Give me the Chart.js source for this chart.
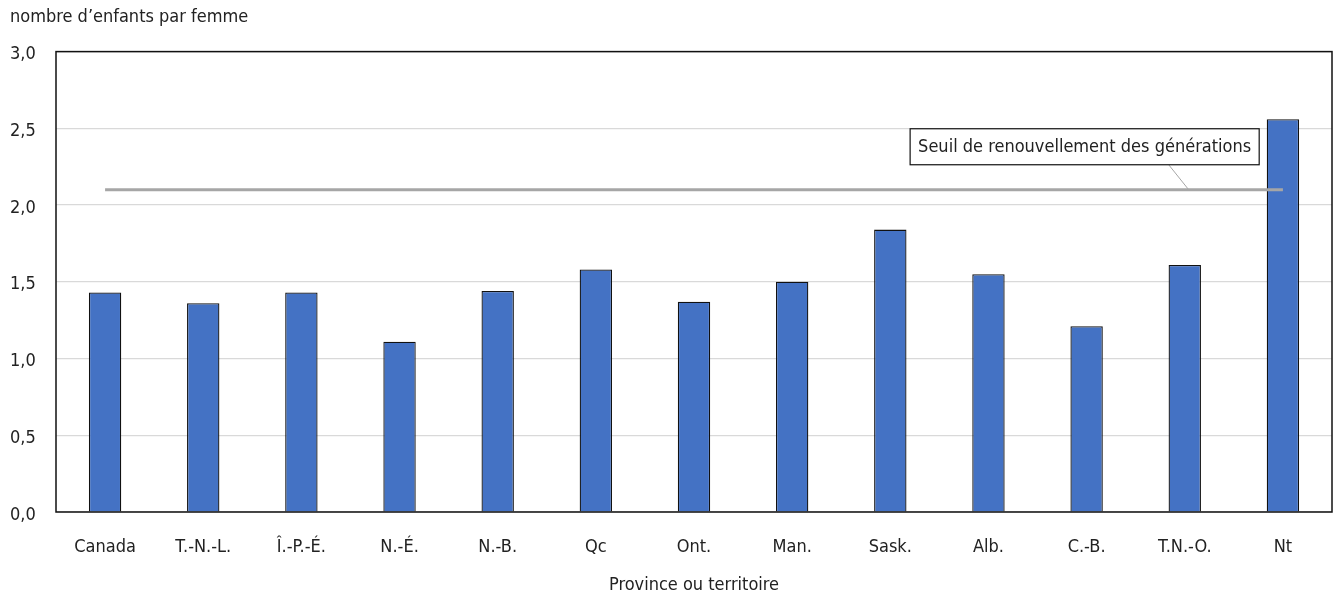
<!DOCTYPE html>
<html>
<head>
<meta charset="utf-8">
<script src="https://cdn.jsdelivr.net/npm/chart.js@4"></script>
<style>
  html, body { margin: 0; padding: 0; background: #fff; }
  #wrap { width: 1338px; height: 596px; }
</style>
</head>
<body>
<div id="wrap"><canvas id="chart" width="1338" height="596"></canvas></div>
<script>
// Data
const provinces = ['Canada', 'T.-N.-L.', 'Î.-P.-É.', 'N.-É.', 'N.-B.', 'Qc', 'Ont.', 'Man.', 'Sask.', 'Alb.', 'C.-B.', 'T.N.-O.', 'Nt'];
const fecondite = [1.43, 1.36, 1.43, 1.11, 1.44, 1.58, 1.37, 1.50, 1.84, 1.55, 1.21, 1.61, 2.56];
const seuil = [2.1, 2.1, 2.1, 2.1, 2.1, 2.1, 2.1, 2.1, 2.1, 2.1, 2.1, 2.1, 2.1];
const yTicks = [0, 0.5, 1.0, 1.5, 2.0, 2.5, 3.0];
const seuilLabel = 'Seuil de renouvellement des générations';

const FONT = "'Liberation Sans Narrow', 'DejaVu Sans Condensed', 'Roboto', sans-serif";
const FS = 18;
Chart.defaults.font.family = FONT;
Chart.defaults.color = '#222';

// frame around the plot + callout box for the threshold line
const framePlugin = {
    id: 'frame',
    afterDatasetsDraw(chart) {
        const { ctx, chartArea: a, scales } = chart;
        ctx.save();
        ctx.strokeStyle = '#111';
        ctx.lineWidth = 1.5;
        ctx.strokeRect(a.left, a.top, a.right - a.left, a.bottom - a.top);

        // leader line from box to the threshold line
        const tipX = scales.x.getPixelForValue(11.04);
        const tipY = scales.y.getPixelForValue(seuil[0]);
        const boxCx = scales.x.getPixelForValue(9.98);
        const boxCy = scales.y.getPixelForValue(2.38);
        ctx.font = FS + 'px ' + FONT;
        const w = ctx.measureText(seuilLabel).width + 16;
        const h = 36;
        ctx.strokeStyle = '#a6a6a6';
        ctx.lineWidth = 1;
        ctx.beginPath();
        ctx.moveTo(tipX - 20, boxCy + h / 2);
        ctx.lineTo(tipX, tipY);
        ctx.stroke();

        ctx.fillStyle = '#fff';
        ctx.fillRect(boxCx - w / 2, boxCy - h / 2, w, h);
        ctx.strokeStyle = '#111';
        ctx.lineWidth = 1.2;
        ctx.strokeRect(boxCx - w / 2, boxCy - h / 2, w, h);
        ctx.fillStyle = '#222';
        ctx.textAlign = 'center';
        ctx.textBaseline = 'middle';
        ctx.fillText(seuilLabel, boxCx, boxCy + 1);
        ctx.restore();
    }
};

new Chart(document.getElementById('chart').getContext('2d'), {
    data: {
        labels: provinces,
        datasets: [
            {
                type: 'line',
                data: seuil,
                borderColor: '#a6a6a6',
                borderWidth: 3,
                pointRadius: 0,
                order: 0
            },
            {
                type: 'bar',
                data: fecondite,
                backgroundColor: '#4472c4',
                borderColor: '#111',
                borderWidth: 1.3,
                barPercentage: 0.33,
                categoryPercentage: 1,
                order: 1
            }
        ]
    },
    options: {
        responsive: false,
        animation: false,
        layout: { padding: { left: 10, right: 6, top: 6, bottom: 0 } },
        plugins: {
            legend: { display: false },
            tooltip: { enabled: false },
            title: {
                display: true,
                text: 'nombre d\u2019enfants par femme',
                align: 'start',
                font: { size: FS, weight: 'normal' },
                color: '#222',
                padding: { top: 1, bottom: 23 }
            }
        },
        scales: {
            x: {
                grid: { display: false, drawTicks: false },
                border: { display: false },
                ticks: { font: { size: FS }, color: '#222', padding: 25, maxRotation: 0 },
                title: {
                    display: true,
                    text: 'Province ou territoire',
                    font: { size: FS },
                    color: '#222',
                    padding: { top: 0, bottom: 0 }
                },
                afterFit(axis) { axis.height = 84; }
            },
            y: {
                min: 0,
                max: 3,
                afterBuildTicks(axis) {
                    axis.ticks = yTicks.map(v => ({ value: v }));
                },
                grid: { color: '#d9d9d9', lineWidth: 1.2, drawTicks: false },
                border: { display: false },
                ticks: {
                    font: { size: FS },
                    color: '#222',
                    padding: 20,
                    crossAlign: 'far',
                    labelOffset: 3,
                    callback: v => v.toFixed(1).replace('.', ',')
                },
                afterFit(axis) { axis.width = 46; }
            }
        }
    },
    plugins: [framePlugin]
});
</script>
</body>
</html>
